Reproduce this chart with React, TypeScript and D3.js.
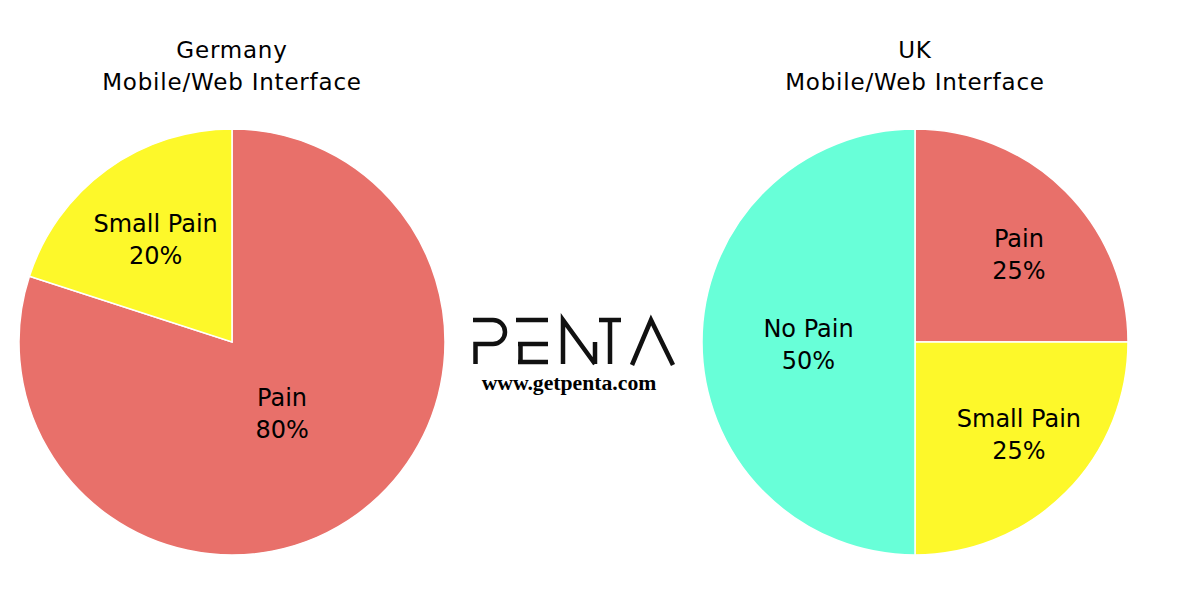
import React from "react";
import * as d3 from "d3";

// Slice categories and their shares (percent) for each country
const germanyLabels = ["Pain", "Small Pain"];
const germanyValues = [80, 20];
const ukLabels = ["Pain", "Small Pain", "No Pain"];
const ukValues = [25, 25, 50];
const titles = [
  ["Germany", "Mobile/Web Interface"],
  ["UK", "Mobile/Web Interface"],
];

const W = 1178;
const H = 594;
const R = 213;
const FONT = "'DejaVu Sans', Verdana, sans-serif";

const color = d3
  .scaleOrdinal<string, string>()
  .domain(["Pain", "Small Pain", "No Pain"])
  .range(["#e8706a", "#fdf82a", "#68ffd8"]);

// horizontal / vertical offsets of inside labels, as fractions of the radius,
// depending on the share of the slice
const labelFx = d3.scaleLinear().domain([0.2, 0.25, 0.5, 0.8]).range([0.61, 0.69, 0.5, 0.4]).clamp(true);
const labelFy = d3.scaleLinear().domain([0.2, 0.25, 0.5, 0.8]).range([0.61, 0.6, 0.5, 0.4]).clamp(true);

type PieProps = { cx: number; cy: number; labels: string[]; values: number[]; title: string[] };

function Pie({ cx, cy, labels, values, title }: PieProps) {
  const data = labels.map((l, i) => ({ label: l, value: values[i] }));
  const total = d3.sum(values);
  const arcs = d3
    .pie<{ label: string; value: number }>()
    .sort(null)
    .value((d) => d.value)(data);
  const arc = d3
    .arc<d3.PieArcDatum<{ label: string; value: number }>>()
    .innerRadius(0)
    .outerRadius(R);
  return (
    <g>
      <text textAnchor="middle" fontFamily={FONT} fontSize={23} letterSpacing={0.8} fill="#000">
        <tspan x={cx} y={cy - 284}>{title[0]}</tspan>
        <tspan x={cx} y={cy - 252}>{title[1]}</tspan>
      </text>
      <g transform={`translate(${cx},${cy})`}>
        {arcs.map((a, i) => (
          <path key={i} d={arc(a) || ""} fill={color(a.data.label)} stroke="#fff" strokeWidth={1.5} />
        ))}
        {arcs.map((a, i) => {
          const mid = (a.startAngle + a.endAngle) / 2;
          const p = a.data.value / total;
          const x = R * labelFx(p) * Math.sin(mid);
          const y = -R * labelFy(p) * Math.cos(mid);
          return (
            <text key={"t" + i} textAnchor="middle" fontFamily={FONT} fontSize={24} fill="#000">
              <tspan x={x} y={y - 5}>{a.data.label}</tspan>
              <tspan x={x} y={y + 27}>{`${a.data.value}%`}</tspan>
            </text>
          );
        })}
      </g>
    </g>
  );
}

function Logo({ x, y }: { x: number; y: number }) {
  const sw = 4.5;
  return (
    <g transform={`translate(${x},${y})`} fill="none" stroke="#111" strokeWidth={sw}>
      {/* P */}
      <path d="M-2,0 H18 A12,12 0 0 1 18,24 H0.5 V44" />
      {/* E */}
      <path d="M41,0 H73 M43,24 H73 M45.5,24 V42 M43,42 H73" />
      {/* N */}
      <path d="M88,44 V0 L120,44 M120,44 V22" strokeLinejoin="miter" />
      {/* T */}
      <path d="M124,0 H146 M135,0 V44" />
      {/* A */}
      <path d="M157,45 L176,0 L198,45" strokeLinejoin="miter" />
      <text
        x={94}
        y={70}
        textAnchor="middle"
        stroke="none"
        fill="#000"
        fontFamily="'Liberation Serif', 'Times New Roman', serif"
        fontWeight="bold"
        fontSize={21.7}
      >
        www.getpenta.com
      </text>
    </g>
  );
}

export default function App() {
  return (
    <svg
      width={W}
      height={H}
      style={{ position: "absolute", left: 0, top: 0, background: "#fff" }}
    >
      <rect width={W} height={H} fill="#fff" />
      <Pie cx={232} cy={342} labels={germanyLabels} values={germanyValues} title={titles[0]} />
      <Pie cx={915} cy={342} labels={ukLabels} values={ukValues} title={titles[1]} />
      <Logo x={475} y={320} />
    </svg>
  );
}
